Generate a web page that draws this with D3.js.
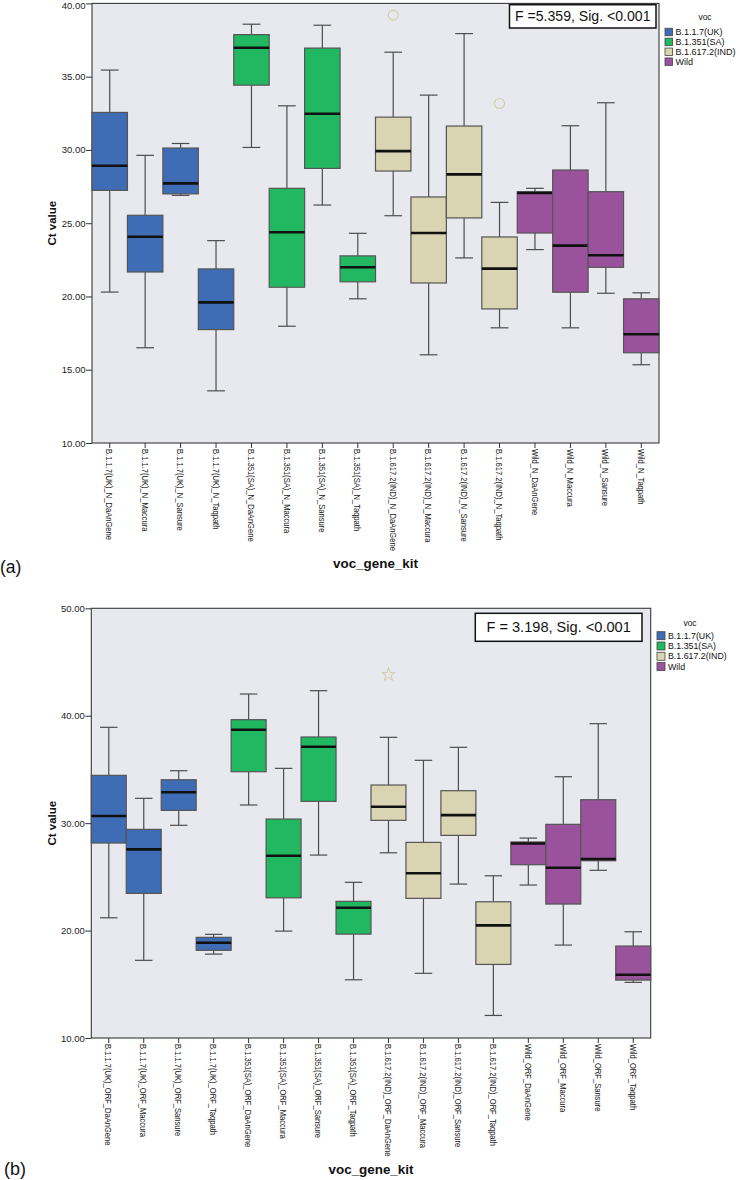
<!DOCTYPE html>
<html><head><meta charset="utf-8">
<script src="https://cdn.jsdelivr.net/npm/d3@7"></script>
<style>
body{margin:0;background:#fff}
svg{display:block}
text{font-family:"Liberation Sans",Arial,Helvetica,sans-serif}
</style>
</head><body>
<svg id="chart" width="740" height="1180"></svg>
<script>
// ---------- data ----------
const vocGroups = ["B.1.1.7(UK)", "B.1.351(SA)", "B.1.617.2(IND)", "Wild"];
const vocColors = ["#3E6DB5", "#22B862", "#D9D4B2", "#9B529C"];

const categoriesA = [
  "B.1.1.7(UK)_N_DaAnGene", "B.1.1.7(UK)_N_Maccura", "B.1.1.7(UK)_N_Sansure", "B.1.1.7(UK)_N_Taqpath",
  "B.1.351(SA)_N_DaAnGene", "B.1.351(SA)_N_Maccura", "B.1.351(SA)_N_Sansure", "B.1.351(SA)_N_Taqpath",
  "B.1.617.2(IND)_N_DaAnGene", "B.1.617.2(IND)_N_Maccura", "B.1.617.2(IND)_N_Sansure", "B.1.617.2(IND)_N_Taqpath",
  "Wild_N_DaAnGene", "Wild_N_Maccura", "Wild_N_Sansure", "Wild_N_Taqpath"
];
const categoriesB = [
  "B.1.1.7(UK)_ORF_DaAnGene", "B.1.1.7(UK)_ORF_Maccura", "B.1.1.7(UK)_ORF_Sansure", "B.1.1.7(UK)_ORF_Taqpath",
  "B.1.351(SA)_ORF_DaAnGene", "B.1.351(SA)_ORF_Maccura", "B.1.351(SA)_ORF_Sansure", "B.1.351(SA)_ORF_Taqpath",
  "B.1.617.2(IND)_ORF_DaAnGene", "B.1.617.2(IND)_ORF_Maccura", "B.1.617.2(IND)_ORF_Sansure", "B.1.617.2(IND)_ORF_Taqpath",
  "Wild_ORF_DaAnGene", "Wild_ORF_Maccura", "Wild_ORF_Sansure", "Wild_ORF_Taqpath"
];
const vocOfCategory = [
  "B.1.1.7(UK)", "B.1.1.7(UK)", "B.1.1.7(UK)", "B.1.1.7(UK)",
  "B.1.351(SA)", "B.1.351(SA)", "B.1.351(SA)", "B.1.351(SA)",
  "B.1.617.2(IND)", "B.1.617.2(IND)", "B.1.617.2(IND)", "B.1.617.2(IND)",
  "Wild", "Wild", "Wild", "Wild"
];

// panel (a): N gene
const lowA  = [20.3, 16.5, 26.9, 13.56, 30.17, 17.97, 26.24, 19.84, 25.51, 16.02, 22.63, 17.86, 23.2, 17.86, 20.22, 15.34];
const q1A   = [27.24, 21.67, 27.0, 17.74, 34.42, 20.63, 28.74, 21.0, 28.56, 20.92, 25.36, 19.15, 24.33, 20.29, 21.99, 16.16];
const medA  = [28.92, 24.08, 27.72, 19.6, 36.97, 24.38, 32.47, 21.99, 29.92, 24.33, 28.33, 21.9, 27.06, 23.47, 22.81, 17.42];
const q3A   = [32.56, 25.54, 30.13, 21.88, 37.87, 27.38, 36.95, 22.77, 32.24, 26.79, 31.63, 24.06, 27.15, 28.63, 27.15, 19.84];
const highA = [35.45, 29.63, 30.44, 23.81, 38.58, 33.01, 38.51, 24.31, 36.67, 33.74, 37.94, 26.42, 27.38, 31.65, 33.22, 20.25];
const outliersA = [
  {category: "B.1.617.2(IND)_N_DaAnGene", value: 39.2, kind: "outlier"},
  {category: "B.1.617.2(IND)_N_Taqpath", value: 33.17, kind: "outlier"}
];
const yTicksA = [10, 15, 20, 25, 30, 35, 40];
const statA = "F =5.359, Sig. <0.001";

// panel (b): ORF gene
const lowB  = [21.19, 17.23, 29.8, 17.81, 31.69, 19.95, 27.03, 15.42, 27.24, 16.02, 24.33, 12.1, 24.24, 18.65, 25.61, 15.18];
const q1B   = [28.15, 23.46, 31.19, 18.16, 34.79, 23.05, 32.03, 19.67, 30.26, 23.0, 28.86, 16.85, 26.13, 22.47, 26.5, 15.39];
const medB  = [30.66, 27.56, 32.87, 18.86, 38.7, 26.96, 37.11, 22.12, 31.53, 25.33, 30.75, 20.48, 28.1, 25.85, 26.66, 15.89];
const q3B   = [34.45, 29.42, 34.04, 19.37, 39.63, 30.38, 38.02, 22.72, 33.55, 28.21, 33.02, 22.68, 28.25, 29.89, 32.18, 18.56];
const highB = [38.92, 32.31, 34.88, 19.65, 42.02, 35.1, 42.33, 24.49, 37.99, 35.85, 37.06, 25.1, 28.61, 34.32, 39.26, 19.89];
const outliersB = [
  {category: "B.1.617.2(IND)_ORF_DaAnGene", value: 43.82, kind: "extreme"}
];
const yTicksB = [10, 20, 30, 40, 50];
const statB = "F = 3.198, Sig. <0.001";

// ---------- drawing ----------
const svg = d3.select("#chart");
const color = d3.scaleOrdinal().domain(vocGroups).range(vocColors);

function drawPanel(cfg) {
  const g = svg.append("g");
  const x = d3.scaleBand().domain(cfg.categories).range([cfg.left, cfg.right]).padding(0);
  const y = d3.scaleLinear().domain(cfg.yDomain).range([cfg.bottom, cfg.top]);

  // background & frame
  g.append("rect").attr("x", cfg.left).attr("y", cfg.top)
    .attr("width", cfg.right - cfg.left).attr("height", cfg.bottom - cfg.top)
    .attr("fill", "#E8E9EE").attr("stroke", "#3a3a3a").attr("stroke-width", 1.1);

  const boxes = cfg.categories.map((c, i) => ({
    c, voc: vocOfCategory[i], lo: cfg.low[i], q1: cfg.q1[i], med: cfg.med[i], q3: cfg.q3[i], hi: cfg.high[i]
  }));

  const bw = x.bandwidth();
  const bg = g.selectAll("g.box").data(boxes).join("g").attr("class", "box");
  const cx = d => x(d.c) + bw / 2;
  const wStroke = "#4d4d4d";
  // whiskers
  bg.append("line").attr("x1", cx).attr("x2", cx).attr("y1", d => y(d.lo)).attr("y2", d => y(d.q1))
    .attr("stroke", wStroke).attr("stroke-width", 1.2);
  bg.append("line").attr("x1", cx).attr("x2", cx).attr("y1", d => y(d.q3)).attr("y2", d => y(d.hi))
    .attr("stroke", wStroke).attr("stroke-width", 1.2);
  bg.append("line").attr("x1", d => cx(d) - bw / 4).attr("x2", d => cx(d) + bw / 4)
    .attr("y1", d => y(d.lo)).attr("y2", d => y(d.lo)).attr("stroke", wStroke).attr("stroke-width", 1.2);
  bg.append("line").attr("x1", d => cx(d) - bw / 4).attr("x2", d => cx(d) + bw / 4)
    .attr("y1", d => y(d.hi)).attr("y2", d => y(d.hi)).attr("stroke", wStroke).attr("stroke-width", 1.2);
  // box
  bg.append("rect").attr("x", d => x(d.c)).attr("width", bw)
    .attr("y", d => y(d.q3)).attr("height", d => y(d.q1) - y(d.q3))
    .attr("fill", d => color(d.voc)).attr("stroke", "#555").attr("stroke-width", 1.2);
  // median
  bg.append("line").attr("x1", d => x(d.c)).attr("x2", d => x(d.c) + bw)
    .attr("y1", d => y(d.med)).attr("y2", d => y(d.med))
    .attr("stroke", "#111").attr("stroke-width", 2.6);

  // outliers
  g.selectAll("circle.out").data(cfg.outliers.filter(d => d.kind === "outlier")).join("circle")
    .attr("class", "out").attr("cx", d => x(d.category) + bw / 2).attr("cy", d => y(d.value))
    .attr("r", 5).attr("fill", "none").attr("stroke", "#D2CCA6").attr("stroke-width", 1.1);
  g.selectAll("path.ext").data(cfg.outliers.filter(d => d.kind === "extreme")).join("path")
    .attr("class", "ext")
    .attr("transform", d => `translate(${x(d.category) + bw / 2},${y(d.value)})`)
    .attr("d", d3.symbol().type(d3.symbolStar).size(55))
    .attr("fill", "none").attr("stroke", "#D2CCA6").attr("stroke-width", 1);

  // y axis
  const yAxis = g.append("g").attr("transform", `translate(${cfg.left},0)`)
    .call(d3.axisLeft(y).tickValues(cfg.yTicks).tickFormat(d3.format(".2f")).tickSize(6).tickSizeOuter(0));
  yAxis.select(".domain").remove();
  yAxis.selectAll(".tick line").attr("stroke", "#333");
  yAxis.selectAll(".tick text").attr("font-size", 9.5).attr("fill", "#222")
    .attr("font-family", "'Liberation Sans',Arial,sans-serif").attr("x", -6.5)
    .attr("dy", d => (y(d) < 8 ? "0.55em" : "0.32em"));

  // x axis
  const xAxis = g.append("g").attr("transform", `translate(0,${cfg.bottom})`)
    .call(d3.axisBottom(x).tickSize(5).tickSizeOuter(0));
  xAxis.select(".domain").remove();
  xAxis.selectAll(".tick line").attr("stroke", "#333");
  xAxis.selectAll(".tick text")
    .attr("font-size", 9.6).attr("fill", "#1a1a1a")
    .attr("font-family", "'Liberation Sans',Arial,sans-serif")
    .attr("text-anchor", "start")
    .attr("x", 0).attr("y", 0).attr("dy", "0.35em")
    .attr("transform", "translate(0,6) rotate(90) scale(0.79,1)");

  // axis titles
  g.append("text").attr("transform", `translate(${cfg.yTitleX},${(cfg.top + cfg.bottom) / 2}) rotate(-90)`)
    .attr("text-anchor", "middle").attr("dy", "0.35em")
    .attr("font-size", 11.5).attr("font-weight", "bold").attr("fill", "#111").text("Ct value");
  g.append("text").attr("x", (cfg.left + cfg.right) / 2).attr("y", cfg.xTitleY)
    .attr("text-anchor", "middle").attr("font-size", 13.4).attr("font-weight", "bold")
    .attr("fill", "#111").text("voc_gene_kit");

  // statistic box
  g.append("rect").attr("x", cfg.statBox[0]).attr("y", cfg.statBox[1])
    .attr("width", cfg.statBox[2]).attr("height", cfg.statBox[3])
    .attr("fill", "#fff").attr("stroke", "#111").attr("stroke-width", 1.5);
  g.append("text").attr("x", cfg.statBox[0] + cfg.statBox[2] / 2).attr("y", cfg.statBaseline)
    .attr("text-anchor", "middle").attr("font-size", cfg.statSize).attr("fill", "#111")
    .attr("font-family", "'Liberation Sans',Arial,sans-serif").text(cfg.statText);

  // legend
  const lg = g.append("g");
  lg.append("text").attr("x", cfg.legendTitleX).attr("y", cfg.legendTitleY)
    .attr("text-anchor", "middle").attr("font-size", 8.5).attr("fill", "#111").text("voc");
  const items = lg.selectAll("g.li").data(vocGroups).join("g").attr("class", "li")
    .attr("transform", (d, i) => `translate(${cfg.legendX},${cfg.legendY + i * cfg.legendStep})`);
  items.append("rect").attr("x", 0).attr("y", -cfg.sw / 2).attr("width", cfg.sw).attr("height", cfg.sw)
    .attr("fill", d => color(d)).attr("stroke", "#444").attr("stroke-width", 0.8);
  items.append("text").attr("x", cfg.sw + 3).attr("y", 0).attr("dy", "0.35em")
    .attr("font-size", cfg.legendFont).attr("fill", "#111").text(d => d);

  // panel letter
  g.append("text").attr("x", cfg.letterX).attr("y", cfg.letterY)
    .attr("font-size", cfg.letterSize).attr("fill", "#111")
    .attr("font-family", "'Open Sans','Liberation Sans',sans-serif").text(cfg.letter);
}

drawPanel({
  categories: categoriesA, low: lowA, q1: q1A, med: medA, q3: q3A, high: highA,
  outliers: outliersA, yTicks: yTicksA, yDomain: [10, 40],
  left: 92, right: 659, top: 3.4, bottom: 443,
  yTitleX: 52, xTitleY: 568,
  statBox: [509.5, 4.7, 146.5, 23.3], statBaseline: 21.3, statSize: 14.1, statText: statA,
  legendTitleX: 705, legendTitleY: 19.5, legendX: 665, legendY: 32, legendStep: 9.9, sw: 7.5, legendFont: 9,
  letter: "(a)", letterX: 0, letterY: 573, letterSize: 17.5
});

drawPanel({
  categories: categoriesB, low: lowB, q1: q1B, med: medB, q3: q3B, high: highB,
  outliers: outliersB, yTicks: yTicksB, yDomain: [10, 50],
  left: 91.3, right: 650.7, top: 608.3, bottom: 1038,
  yTitleX: 52, xTitleY: 1173.5,
  statBox: [475.3, 613.3, 166.7, 28], statBaseline: 631.7, statSize: 14.6, statText: statB,
  legendTitleX: 690, legendTitleY: 625.5, legendX: 657, legendY: 635.7, legendStep: 10.3, sw: 8, legendFont: 8.8,
  letter: "(b)", letterX: 4, letterY: 1175, letterSize: 18
});
</script>
</body></html>
